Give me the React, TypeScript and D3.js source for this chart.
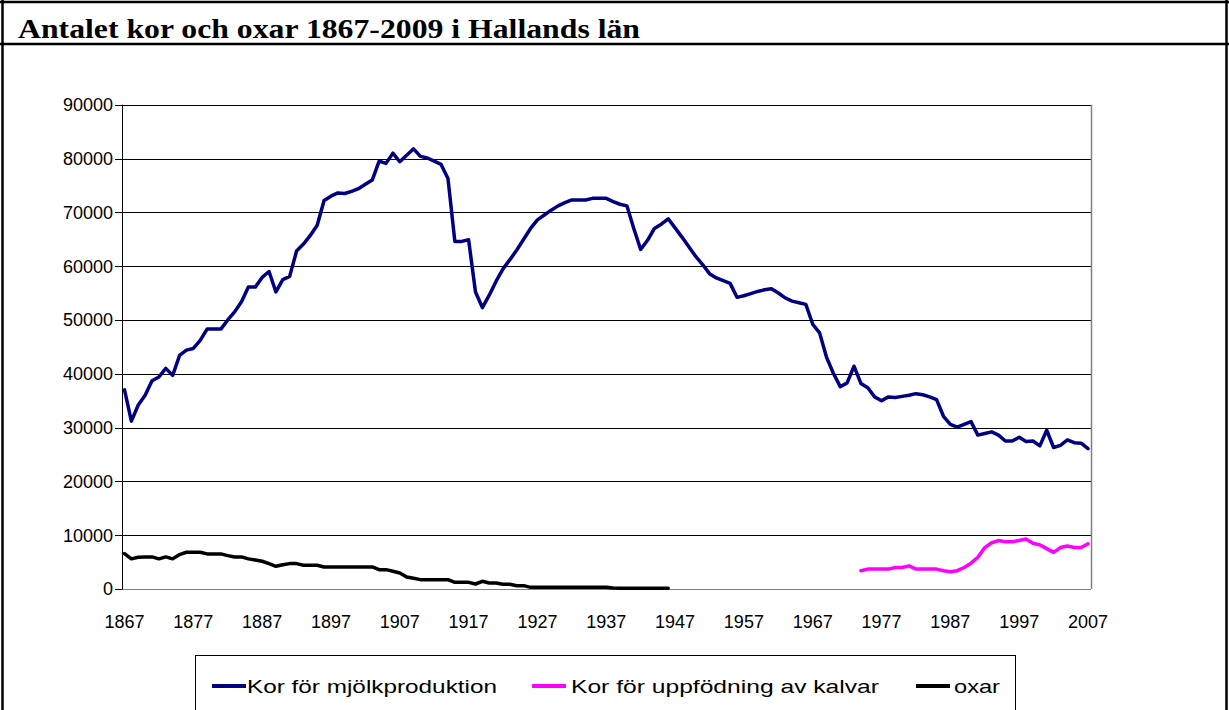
import React from "react";
import * as d3 from "d3";

const startYear = 1867;
const endYear = 2007;

const mjolkYears = d3.range(1867, 2008);
const mjolkValues = [
  37000, 31200, 34200, 36000, 38700, 39400, 41000, 39700, 43400, 44400,
  44700, 46200, 48300, 48300, 48300, 50000, 51500, 53400, 56100, 56100,
  57900, 59000, 55200, 57500, 58100, 62800, 64100, 65700, 67600, 72200,
  73000, 73600, 73500, 73900, 74400, 75200, 76000, 79500, 79100, 81000,
  79400, 80600, 81800, 80400, 80100, 79500, 78900, 76300, 64600, 64600,
  64900, 55200, 52300, 54600, 57200, 59500, 61200, 63000, 65000, 67000,
  68600, 69500, 70400, 71200, 71800, 72300, 72300, 72300, 72600, 72600,
  72600, 72000, 71500, 71200, 67000, 63100, 64800, 67000, 67800, 68800,
  67100, 65400, 63600, 61800, 60300, 58600, 57800, 57300, 56800, 54200,
  54500, 54900, 55300, 55600, 55800, 55000, 54100, 53500, 53200, 52900,
  49200, 47600, 43100, 40100, 37600, 38300, 41400, 38200, 37400, 35700,
  35000, 35700, 35600, 35800, 36000, 36300, 36100, 35700, 35200, 32100,
  30600, 30100, 30600, 31100, 28600, 28900, 29200, 28600, 27500, 27500,
  28200, 27400, 27500, 26600, 29500, 26300, 26700, 27700, 27200, 27100,
  26100,
];

const kalvYears = d3.range(1974, 2008);
const kalvValues = [
  3400, 3700, 3700, 3700, 3700, 4000, 4000, 4300, 3700, 3700,
  3700, 3700, 3400, 3200, 3400, 4000, 4800, 5900, 7700, 8600,
  9000, 8800, 8800, 9000, 9300, 8500, 8200, 7500, 6800, 7700,
  8000, 7700, 7700, 8400,
];

const oxarYears = d3.range(1867, 1947);
const oxarValues = [
  6580, 5600, 5900, 5960, 5960, 5600, 5960, 5600, 6400, 6830,
  6830, 6830, 6520, 6520, 6520, 6200, 5960, 5960, 5600, 5400,
  5160, 4700, 4220, 4500, 4720, 4720, 4410, 4410, 4410, 4100,
  4100, 4100, 4100, 4100, 4100, 4100, 4100, 3600, 3600, 3300,
  2980, 2240, 2000, 1740, 1740, 1740, 1740, 1740, 1240, 1240,
  1240, 930, 1430, 1120, 1120, 870, 870, 620, 620, 310,
  310, 310, 310, 310, 310, 310, 310, 310, 310, 310,
  310, 200, 120, 120, 120, 120, 120, 120, 120, 120,
];

const yTicks = d3.range(0, 90001, 10000);
const xTickLabels = d3.range(1867, 2008, 10);

const seriesNames = ["Kor för mjölkproduktion", "Kor för uppfödning av kalvar", "oxar"];
const seriesColors = ["#000080", "#FF00FF", "#000000"];

export default function App() {
  const W = 1229;
  const H = 710;
  const left = 122;
  const right = 1091;
  const top = 104.7;
  const bottom = 589;

  const x = d3.scaleLinear().domain([startYear, endYear]).range([left + 2.5, right - 3]);
  const y = d3.scaleLinear().domain([0, 90000]).range([bottom, top]);

  const line = d3
    .line<[number, number]>()
    .x((d) => x(d[0]))
    .y((d) => y(d[1]));

  const series = [
    mjolkYears.map((yr, i) => [yr, mjolkValues[i]] as [number, number]),
    kalvYears.map((yr, i) => [yr, kalvValues[i]] as [number, number]),
    oxarYears.map((yr, i) => [yr, oxarValues[i]] as [number, number]),
  ];

  const legendItems = [
    { sx: 212, tx: 247, w: 250 },
    { sx: 532, tx: 571, w: 308 },
    { sx: 916, tx: 954, w: 46 },
  ];

  return (
    <svg
      width={W}
      height={H}
      style={{ position: "absolute", left: 0, top: 0, background: "#fff" }}
      fontFamily="'Liberation Sans', Arial, sans-serif"
    >
      <rect x={0} y={0} width={W} height={H} fill="#fff" />
      {/* frame */}
      <line x1={0} y1={2} x2={W} y2={2} stroke="#000" strokeWidth={2.5} />
      <line x1={2.5} y1={0} x2={2.5} y2={H} stroke="#000" strokeWidth={2.5} />
      <line x1={1226.5} y1={0} x2={1226.5} y2={H} stroke="#000" strokeWidth={2.5} />
      <line x1={0} y1={44} x2={W} y2={44} stroke="#000" strokeWidth={2.5} />
      <text
        x={18}
        y={38}
        fontFamily="'Liberation Serif', 'Times New Roman', serif"
        fontWeight="bold"
        fontSize={28}
        textLength={622}
        lengthAdjust="spacingAndGlyphs"
        fill="#000"
      >
        Antalet kor och oxar 1867-2009 i Hallands län
      </text>

      {/* gridlines */}
      {yTicks.map((t) => (
        <line
          key={"g" + t}
          x1={left}
          x2={right}
          y1={Math.round(y(t)) + 0.5}
          y2={Math.round(y(t)) + 0.5}
          stroke={t === 0 ? "#808080" : "#000"}
          strokeWidth={1}
        />
      ))}
      {/* plot border right */}
      <line x1={right + 0.5} x2={right + 0.5} y1={top} y2={bottom} stroke="#808080" strokeWidth={1.5} />
      {/* y axis */}
      <line x1={left + 0.5} x2={left + 0.5} y1={top} y2={bottom + 0.5} stroke="#000" strokeWidth={1} />
      {yTicks.map((t) => (
        <g key={"yt" + t}>
          <line
            x1={left - 7}
            x2={left}
            y1={Math.round(y(t)) + 0.5}
            y2={Math.round(y(t)) + 0.5}
            stroke="#000"
            strokeWidth={1}
          />
          <text x={113} y={y(t)} dy="0.36em" textAnchor="end" fontSize={18} fill="#000">
            {t}
          </text>
        </g>
      ))}
      {xTickLabels.map((yr) => (
        <text key={"xt" + yr} x={x(yr)} y={628} textAnchor="middle" fontSize={18} fill="#000">
          {yr}
        </text>
      ))}

      {/* series */}
      {series.map((s, i) => (
        <path
          key={"s" + i}
          d={line(s) || ""}
          fill="none"
          stroke={seriesColors[i]}
          strokeWidth={3.5}
          strokeLinejoin="round"
          strokeLinecap="round"
        />
      ))}

      {/* legend */}
      <rect x={195.5} y={655.5} width={820} height={70} fill="#fff" stroke="#000" strokeWidth={1} />
      {seriesNames.map((name, i) => (
        <g key={"l" + i}>
          <line
            x1={legendItems[i].sx}
            x2={legendItems[i].sx + 34}
            y1={686}
            y2={686}
            stroke={seriesColors[i]}
            strokeWidth={4}
          />
          <text
            x={legendItems[i].tx}
            y={693}
            fontSize={19}
            textLength={legendItems[i].w}
            lengthAdjust="spacingAndGlyphs"
            fill="#000"
          >
            {name}
          </text>
        </g>
      ))}
    </svg>
  );
}
